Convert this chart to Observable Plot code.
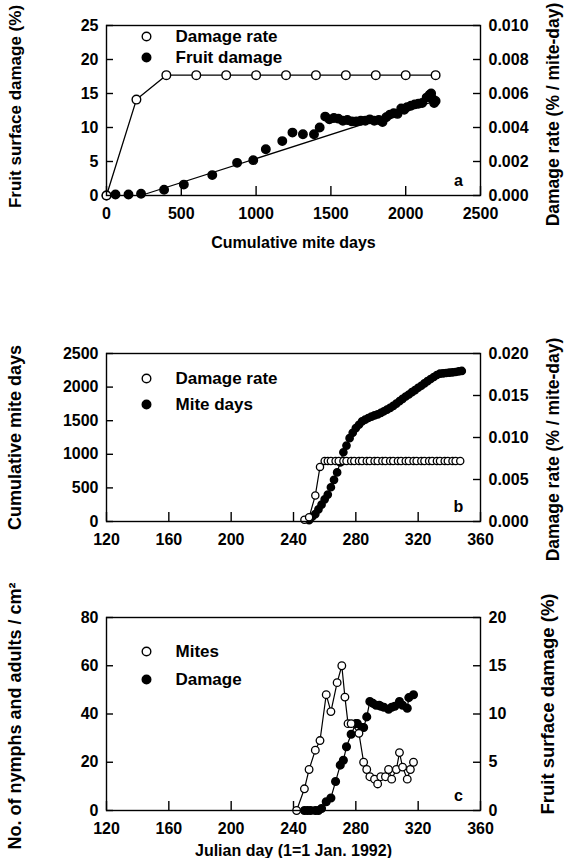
<!DOCTYPE html>
<html><head><meta charset="utf-8">
<script src="https://cdn.jsdelivr.net/npm/d3@7"></script>
<script src="https://cdn.jsdelivr.net/npm/@observablehq/plot@0.6"></script>
<style>
body{margin:0;background:#fff;}
#chart{position:relative;width:564px;height:858px;overflow:hidden;background:#fff;}
#chart svg{position:absolute;left:0;}
</style></head><body><div id="chart"></div>
<script>
// ---------- Panel a ----------
const aRateMiteDays = [0, 200, 400, 600, 800, 1000, 1200, 1400, 1600, 1800, 2000, 2200];
const aRate = [0, 0.00564, 0.00708, 0.00708, 0.00708, 0.00708, 0.00708, 0.00708, 0.00708, 0.00708, 0.00708, 0.00708];
const aDamageMiteDays = [0, 60, 147, 231, 385, 517, 707, 873, 981, 1065, 1175, 1243, 1313, 1387, 1425, 1462, 1490, 1520, 1550, 1580, 1610, 1640, 1670, 1700, 1730, 1760, 1790, 1820, 1845, 1870, 1895, 1920, 1945, 1970, 1990, 2010, 2035, 2060, 2085, 2110, 2140, 2160, 2170, 2180, 2190, 2200];
const aDamage = [0, 0.15, 0.15, 0.25, 0.85, 1.6, 3.0, 4.8, 5.2, 6.8, 8.0, 9.25, 9.0, 9.0, 10.0, 11.6, 11.2, 11.4, 11.3, 11.0, 11.1, 10.9, 10.9, 11.0, 11.0, 11.2, 11.0, 11.1, 10.8, 11.5, 11.9, 12.1, 12.0, 12.8, 12.6, 13.0, 13.2, 13.4, 13.5, 13.6, 14.4, 14.8, 15.0, 14.2, 13.6, 13.9];
const aFitMiteDays = [230, 2200];
const aFit = [0, 13.9];
const aXTicks = [0, 500, 1000, 1500, 2000, 2500];
const aYTicks = [0, 5, 10, 15, 20, 25];
const aRightTicks = [0, 0.002, 0.004, 0.006, 0.008, 0.010];

// ---------- Panel b ----------
const bRateDay = [247, 250, 254, 257, 260, 262, 264, 267, 269, 272, 274, 277, 279, 282, 284, 287, 289, 292, 294, 297, 299, 302, 304, 307, 309, 312, 314, 317, 319, 322, 324, 327, 329, 332, 334, 337, 339, 342, 344, 347];
const bRate = [0.0002, 0.0005, 0.0031, 0.0065, 0.0072, 0.0072, 0.0072, 0.0072, 0.0072, 0.0072, 0.0072, 0.0072, 0.0072, 0.0072, 0.0072, 0.0072, 0.0072, 0.0072, 0.0072, 0.0072, 0.0072, 0.0072, 0.0072, 0.0072, 0.0072, 0.0072, 0.0072, 0.0072, 0.0072, 0.0072, 0.0072, 0.0072, 0.0072, 0.0072, 0.0072, 0.0072, 0.0072, 0.0072, 0.0072, 0.0072];
const bMiteDay = [250, 252, 254, 256, 258, 260, 262, 264, 266, 268, 270, 272, 274, 276, 278, 280, 282, 284, 286, 288, 290, 292, 294, 296, 298, 300, 302, 304, 306, 308, 310, 312, 314, 316, 318, 320, 322, 324, 326, 328, 330, 332, 334, 336, 338, 340, 342, 344, 346, 348];
const bMiteDays = [20, 70, 110, 180, 250, 330, 400, 510, 620, 730, 880, 1030, 1130, 1240, 1320, 1390, 1440, 1490, 1515, 1540, 1560, 1580, 1595, 1615, 1640, 1665, 1690, 1720, 1755, 1790, 1825, 1860, 1890, 1925, 1955, 1990, 2020, 2055, 2090, 2120, 2150, 2180, 2200, 2205, 2210, 2215, 2220, 2225, 2235, 2240];
const dayTicks = [120, 160, 200, 240, 280, 320, 360];
const bYTicks = [0, 500, 1000, 1500, 2000, 2500];
const bRightTicks = [0, 0.005, 0.010, 0.015, 0.020];

// ---------- Panel c ----------
const cMiteDay = [242, 247, 250, 254, 257, 261, 264, 268, 271, 273, 275, 277, 282, 285, 287, 289, 292, 294, 296, 299, 301, 303, 306, 308, 310, 313, 315, 317];
const cMites = [0, 9, 17, 25, 29, 48, 41, 53, 60, 47, 36, 36, 32, 20, 17, 14, 13, 11, 14, 14, 17, 13, 17, 24, 18, 13, 17, 20];
const cDamageDay = [247, 249, 251, 254, 256, 258, 261, 264, 267, 270, 272, 274, 277, 280, 281, 284, 285, 287, 289, 291, 293, 295, 296, 298, 301, 303, 305, 308, 310, 313, 314, 317];
const cDamage = [0, 0, 0, 0, 0, 0.2, 0.9, 1.3, 3.0, 4.7, 5.2, 6.6, 7.9, 9.0, 9.0, 8.6, 8.6, 9.7, 11.3, 11.1, 10.9, 10.9, 10.8, 10.7, 10.5, 10.7, 10.8, 11.3, 10.9, 10.6, 11.7, 12.0];
const cYTicks = [0, 20, 40, 60, 80];
const cRightTicks = [0, 5, 10, 15, 20];

// ---------- helpers ----------
const FONT = "'Liberation Sans', Arial, Helvetica, sans-serif";
const W = 564, ML = 106, MR = 84;
const zip = (xs, ys, f = 1) => xs.map((x, i) => ({x, y: ys[i] * f}));
const T = {text: d => d, textAnchor: "middle", lineAnchor: "middle"};

function legendMarks(rows) {
  const m = [];
  rows.forEach(r => {
    m.push(Plot.dot([0], {frameAnchor: "top-left", dx: 40, dy: r.dy, r: 4.3, stroke: "#000", strokeWidth: 1.4, fill: r.filled ? "#000" : "#fff"}));
    m.push(Plot.text([r.label], {...T, frameAnchor: "top-left", dx: 69, dy: r.dy, textAnchor: "start", fontSize: 17}));
  });
  return m;
}

function makePanel(cfg) {
  const F = cfg.factor;
  const rightPos = cfg.rightTicks.map(v => v * F);
  const [x0, x1] = cfg.xDomain, [y0, y1] = cfg.yDomain;
  const innerH = cfg.height - cfg.marginTop - cfg.marginBottom, innerW = W - ML - MR;
  const yLen = (y1 - y0) * 9 / innerH;   // 9px inward x ticks
  const xLen = (x1 - x0) * 7 / innerW;   // 7px inward y ticks
  const svg = Plot.plot({
    width: W, height: cfg.height,
    marginTop: cfg.marginTop, marginBottom: cfg.marginBottom, marginLeft: ML, marginRight: MR,
    style: {fontFamily: FONT, fontWeight: "bold", fontSize: "16px", color: "#000", background: "transparent"},
    x: {domain: cfg.xDomain},
    y: {domain: cfg.yDomain},
    marks: [
      // inward ticks
      Plot.ruleX(cfg.xTicks, {x: d => d, y1: y0, y2: y0 + yLen, stroke: "#000", strokeWidth: 1.4}),
      Plot.ruleY(cfg.yTicks, {y: d => d, x1: x0, x2: x0 + xLen, stroke: "#000", strokeWidth: 1.4}),
      Plot.ruleY(rightPos, {y: d => d, x1: x1 - xLen, x2: x1, stroke: "#000", strokeWidth: 1.4}),
      ...cfg.marks,
      Plot.frame({stroke: "#000", strokeWidth: 1.4}),
      Plot.axisX({anchor: "bottom", ticks: cfg.xTicks, tickSize: 0, tickPadding: 12, label: null, tickFormat: d => String(d)}),
      Plot.axisY({anchor: "left", ticks: cfg.yTicks, tickSize: 0, tickPadding: 8, label: null, tickFormat: d => String(d)}),
      Plot.axisY({anchor: "right", ticks: rightPos, tickSize: 0, tickPadding: 8, label: null,
                  tickFormat: d => (d / F).toFixed(cfg.rightDigits)}),
      Plot.text([cfg.leftTitle], {...T, frameAnchor: "left", dx: -91, dy: cfg.leftTitleDy, rotate: -90, fontSize: cfg.leftTitleSize}),
      Plot.text([cfg.rightTitle], {...T, frameAnchor: "right", dx: cfg.rightTitleDx, dy: cfg.rightTitleDy, rotate: -90, fontSize: cfg.rightTitleSize}),
      ...(cfg.xTitle ? [Plot.text([cfg.xTitle], {...T, frameAnchor: "bottom", dy: cfg.xTitleDy, fontSize: 16})] : []),
      Plot.text([cfg.letter], {...T, frameAnchor: "bottom-right", dx: -22, dy: -15, fontSize: 16}),
      ...legendMarks(cfg.legend)
    ]
  });
  svg.style.top = cfg.top + "px";
  document.getElementById("chart").appendChild(svg);
}

// Panel a : right axis 0–0.010 mapped on left 0–25
const aF = 2500;
makePanel({
  top: 0, height: 262, marginTop: 25, marginBottom: 67, factor: aF, rightDigits: 3,
  xDomain: [0, 2500], yDomain: [0, 25], xTicks: aXTicks, yTicks: aYTicks, rightTicks: aRightTicks,
  leftTitle: "Fruit surface damage (%)", leftTitleDy: -4, leftTitleSize: 17,
  rightTitle: "Damage rate (% / mite-day)", rightTitleDx: 73, rightTitleDy: 4, rightTitleSize: 17.5,
  xTitle: "Cumulative mite days", xTitleDy: 47, letter: "a",
  legend: [{label: "Damage rate", dy: 11, filled: false}, {label: "Fruit damage", dy: 32, filled: true}],
  marks: [
    Plot.line(zip(aFitMiteDays, aFit), {x: "x", y: "y", stroke: "#000", strokeWidth: 1.3}),
    Plot.dot(zip(aDamageMiteDays, aDamage), {x: "x", y: "y", r: 4.2, fill: "#000", stroke: "#000"}),
    Plot.line(zip(aRateMiteDays, aRate, aF), {x: "x", y: "y", stroke: "#000", strokeWidth: 1.3}),
    Plot.dot(zip(aRateMiteDays, aRate, aF), {x: "x", y: "y", r: 4.3, fill: "#fff", stroke: "#000", strokeWidth: 1.4})
  ]
});

// Panel b : right axis 0–0.020 mapped on left 0–2500
const bF = 125000;
makePanel({
  top: 330, height: 245, marginTop: 23, marginBottom: 54, factor: bF, rightDigits: 3,
  xDomain: [120, 360], yDomain: [0, 2500], xTicks: dayTicks, yTicks: bYTicks, rightTicks: bRightTicks,
  leftTitle: "Cumulative mite days", leftTitleDy: 0, leftTitleSize: 18,
  rightTitle: "Damage rate (% / mite-day)", rightTitleDx: 73, rightTitleDy: 12, rightTitleSize: 17.5,
  xTitle: null, letter: "b",
  legend: [{label: "Damage rate", dy: 25, filled: false}, {label: "Mite days", dy: 51, filled: true}],
  marks: [
    Plot.line(zip(bMiteDay, bMiteDays), {x: "x", y: "y", stroke: "#000", strokeWidth: 1.2}),
    Plot.dot(zip(bMiteDay, bMiteDays), {x: "x", y: "y", r: 3.6, fill: "#000", stroke: "#000"}),
    Plot.line(zip(bRateDay, bRate, bF), {x: "x", y: "y", stroke: "#000", strokeWidth: 1.2}),
    Plot.dot(zip(bRateDay, bRate, bF), {x: "x", y: "y", r: 3.6, fill: "#fff", stroke: "#000", strokeWidth: 1.3})
  ]
});

// Panel c : right axis 0–20 mapped on left 0–80
const cF = 4;
makePanel({
  top: 575, height: 283, marginTop: 42, marginBottom: 48, factor: cF, rightDigits: 0,
  xDomain: [120, 360], yDomain: [0, 80], xTicks: dayTicks, yTicks: cYTicks, rightTicks: cRightTicks,
  leftTitle: "No. of nymphs and adults / cm²", leftTitleDy: 2, leftTitleSize: 18,
  rightTitle: "Fruit surface damage (%)", rightTitleDx: 68, rightTitleDy: -10, rightTitleSize: 18.5,
  xTitle: "Julian day (1=1 Jan. 1992)", xTitleDy: 40, letter: "c",
  legend: [{label: "Mites", dy: 34, filled: false}, {label: "Damage", dy: 62, filled: true}],
  marks: [
    Plot.line(zip(cDamageDay, cDamage, cF), {x: "x", y: "y", stroke: "#000", strokeWidth: 1.2}),
    Plot.dot(zip(cDamageDay, cDamage, cF), {x: "x", y: "y", r: 3.8, fill: "#000", stroke: "#000"}),
    Plot.line(zip(cMiteDay, cMites), {x: "x", y: "y", stroke: "#000", strokeWidth: 1.2}),
    Plot.dot(zip(cMiteDay, cMites), {x: "x", y: "y", r: 3.8, fill: "#fff", stroke: "#000", strokeWidth: 1.3})
  ]
});
</script></body></html>
